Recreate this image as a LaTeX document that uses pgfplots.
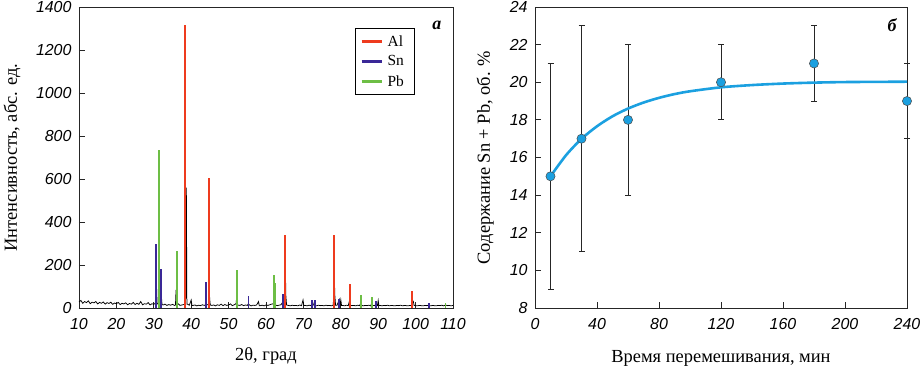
\documentclass[border=0pt]{standalone}
\usepackage{fontspec}
\setmainfont{Liberation Serif}
\setsansfont{Liberation Sans}
\usepackage{pgfplots}
\pgfplotsset{compat=1.18}
\definecolor{alred}{HTML}{EE3B1E}
\definecolor{snblue}{HTML}{3A2897}
\definecolor{pbgreen}{HTML}{6DBE45}
\definecolor{curveblue}{HTML}{1BA0E0}
\newcommand\legf{\fontsize{15.5}{18}\selectfont}
\pgfplotsset{
  common/.style={
    scale only axis,
    height=301bp,
    tick align=inside,
    tick pos=left,
    major tick length=6bp,
    axis line style={black!85, line width=0.9bp},
    every tick/.style={black!85, line width=0.8bp},
    tick label style={font=\fontsize{16}{19}\selectfont\sffamily\itshape},
    /pgf/number format/assume math mode=true,
    /pgf/number format/1000 sep={},
    xticklabel style={yshift=-7bp},
    yticklabel style={xshift=-4bp},
    label style={font=\fontsize{18.5}{22}\selectfont},
  }
}
\begin{document}
\begin{tikzpicture}
\path[use as bounding box] (-79bp,-60bp) rectangle (842bp,308bp);
\begin{axis}[common,
  at={(0,0)}, anchor=south west,
  width=374bp,
  xmin=10, xmax=110, ymin=0, ymax=1400,
  xtick={10,20,...,110}, ytick={0,200,...,1400},
  xlabel={2θ, град},
  ylabel={Интенсивность, абс. ед.},
  xlabel style={at={(axis description cs:0.5,-0.16)}, anchor=center},
  ylabel style={at={(axis description cs:-0.179,0.5)}, anchor=center, rotate=0},
  legend style={at={(axis description cs:0.738,0.93)}, anchor=north west,
    font=\legf, draw=black, line width=0.8bp,
    row sep=4bp, inner xsep=5bp, inner ysep=5bp,
    nodes={inner xsep=5bp, font=\legf}},
  legend image code/.code={\draw[#1] (0bp,0bp) -- (20bp,0bp);},
  legend cell align=left,
]
\addplot[black, line width=0.75bp, forget plot] coordinates {
(10,28)(10.5,35)(11,22)(11.5,30)(12,25)(12.5,33)(13,20)(13.5,27)(14,24)(14.5,30)(15,19)(15.5,26)(16,22)(16.5,28)(17,18)(17.5,25)(18,21)(18.5,27)(19,17)(19.5,23)(20,20)(20.5,26)(21,16)(21.5,22)(22,19)(22.5,24)(23,15)(23.5,21)(24,18)(24.5,26)(25,16)(25.5,22)(26,17)(26.5,30)(27,15)(27.5,20)(28,18)(28.5,25)(29,14)(29.5,20)(30,17)(30.4,22)(30.6,45)(30.8,18)(31.1,20)(31.3,130)(31.5,22)(31.8,18)(32.0,60)(32.2,16)(32.5,14)(33,18)(33.5,12)(34,16)(34.5,13)(35,17)(35.5,12)(35.8,14)(35.95,84)(36.1,14)(36.5,20)(37,12)(37.5,14)(38,16)(38.3,18)(38.4,125)(38.5,20)(38.7,560)(38.85,18)(39,18)(39.5,13)(40,37)(40.2,12)(40.5,12)(41,14)(41.5,10)(42,13)(42.5,11)(43,15)(43.5,12)(43.8,14)(43.9,45)(44.0,14)(44.5,16)(44.7,18)(44.8,100)(44.95,40)(45.1,14)(45.5,12)(46,14)(46.5,10)(47,15)(47.5,12)(48,18)(48.5,11)(49,16)(49.5,12)(50,14)(50.5,19)(51,11)(51.5,15)(52,20)(52.2,60)(52.4,14)(53,12)(53.5,16)(54,11)(54.5,14)(55,12)(55.3,20)(55.5,15)(56,10)(56.5,13)(57,12)(57.5,14)(58,30)(58.2,11)(58.5,11)(59,13)(59.5,10)(60,14)(60.5,12)(61,15)(61.5,18)(62,20)(62.1,60)(62.3,115)(62.5,14)(63,11)(63.5,13)(64,15)(64.6,30)(64.8,14)(65.0,20)(65.15,222)(65.3,60)(65.5,14)(66,12)(66.5,10)(67,13)(67.5,11)(68,12)(68.5,10)(69,14)(69.5,11)(69.9,37)(70.1,12)(70.5,12)(71,10)(71.5,13)(72,11)(72.5,25)(72.7,14)(73,12)(73.5,10)(74,13)(74.5,11)(75,12)(75.5,10)(76,13)(76.5,11)(77,12)(77.5,10)(78,14)(78.2,192)(78.4,60)(78.6,13)(79,13)(79.6,40)(79.8,14)(80,38)(80.2,12)(80.5,12)(81,10)(81.5,13)(82,11)(82.4,40)(82.6,12)(83,11)(83.5,12)(84,10)(84.5,13)(85,11)(85.4,25)(85.6,12)(86,10)(86.5,12)(87,11)(87.5,13)(88,10)(88.3,25)(88.5,12)(89,11)(89.5,20)(89.8,12)(90,35)(90.2,11)(90.5,12)(91,10)(91.5,12)(92,11)(92.5,13)(93,10)(93.5,12)(94,11)(94.5,10)(95,12)(95.5,11)(96,13)(96.5,10)(97,12)(97.5,11)(98,10)(98.5,12)(99,11)(99.2,35)(99.4,30)(99.6,12)(100,11)(100.5,10)(101,12)(101.5,11)(102,10)(102.5,12)(103,11)(103.5,13)(104,10)(104.5,12)(105,11)(105.5,10)(106,12)(106.5,11)(107,13)(107.5,10)(108,14)(108.5,11)(109,12)(109.5,10)(110,12)};
\addplot[alred, ycomb, line width=2bp, forget plot] coordinates {
(38.4,1315)(44.8,605)(65.1,340)(78.2,340)(82.4,110)(99.1,80)};
\addplot[snblue, ycomb, line width=1.8bp, forget plot] coordinates {
(30.6,298)(32.0,180)(43.9,120)(55.3,55)(64.6,65)(72.4,37)(73.2,37)(79.5,42)(89.4,33)(103.6,25)};
\addplot[pbgreen, ycomb, line width=1.8bp, forget plot] coordinates {
(31.3,735)(36.3,267)(52.2,177)(62.1,153)(62.4,115)(85.4,60)(88.3,53)(108.0,25)};
\addlegendimage{alred, line width=2.2bp}
\addlegendentry{\legf Al}
\addlegendimage{snblue, line width=2.2bp}
\addlegendentry{\legf Sn}
\addlegendimage{pbgreen, line width=2.2bp}
\addlegendentry{\legf Pb}
\node[font=\fontsize{18}{20}\selectfont\bfseries\itshape] at (axis description cs:0.957,0.94) {а};
\end{axis}

\begin{axis}[common,
  at={(456bp,0)}, anchor=south west,
  width=372bp,
  xmin=0, xmax=240, ymin=8, ymax=24,
  xtick={0,40,...,240}, ytick={8,10,...,24},
  xlabel={Время перемешивания, мин},
  ylabel={Содержание Sn + Pb, об. \%},
  xlabel style={at={(axis description cs:0.5,-0.166)}, anchor=center},
  ylabel style={at={(axis description cs:-0.134,0.5)}, anchor=center, rotate=0},
  clip=false,
]
\addplot[black, only marks, mark=none,
  error bars/.cd, y dir=both, y explicit,
  error bar style={line width=0.8bp, black!85},
  error mark options={rotate=90, mark size=3bp, line width=0.8bp, black!85}]
coordinates {
(10,15) +- (0,6)
(30,17) +- (0,6)
(60,18) +- (0,4)
(120,20) +- (0,2)
(180,21) +- (0,2)
(240,19) +- (0,2)
};
\addplot[curveblue, line width=2.6bp, smooth, mark=none] coordinates {
(10,15.00)(20,16.12)(30,16.99)(40,17.66)(50,18.19)(60,18.60)(70,18.92)(80,19.17)(90,19.37)(100,19.52)(120,19.73)(140,19.85)(160,19.93)(180,19.98)(200,20.01)(220,20.02)(240,20.03)};
\addplot[only marks, mark=*, mark size=4.6bp, mark options={fill=curveblue, draw=black!70, line width=0.5bp}] coordinates {
(10,15)(30,17)(60,18)(120,20)(180,21)(240,19)};
\node[font=\fontsize{18}{20}\selectfont\bfseries\itshape] at (axis description cs:0.96,0.94) {б};
\end{axis}
\end{tikzpicture}
\end{document}
